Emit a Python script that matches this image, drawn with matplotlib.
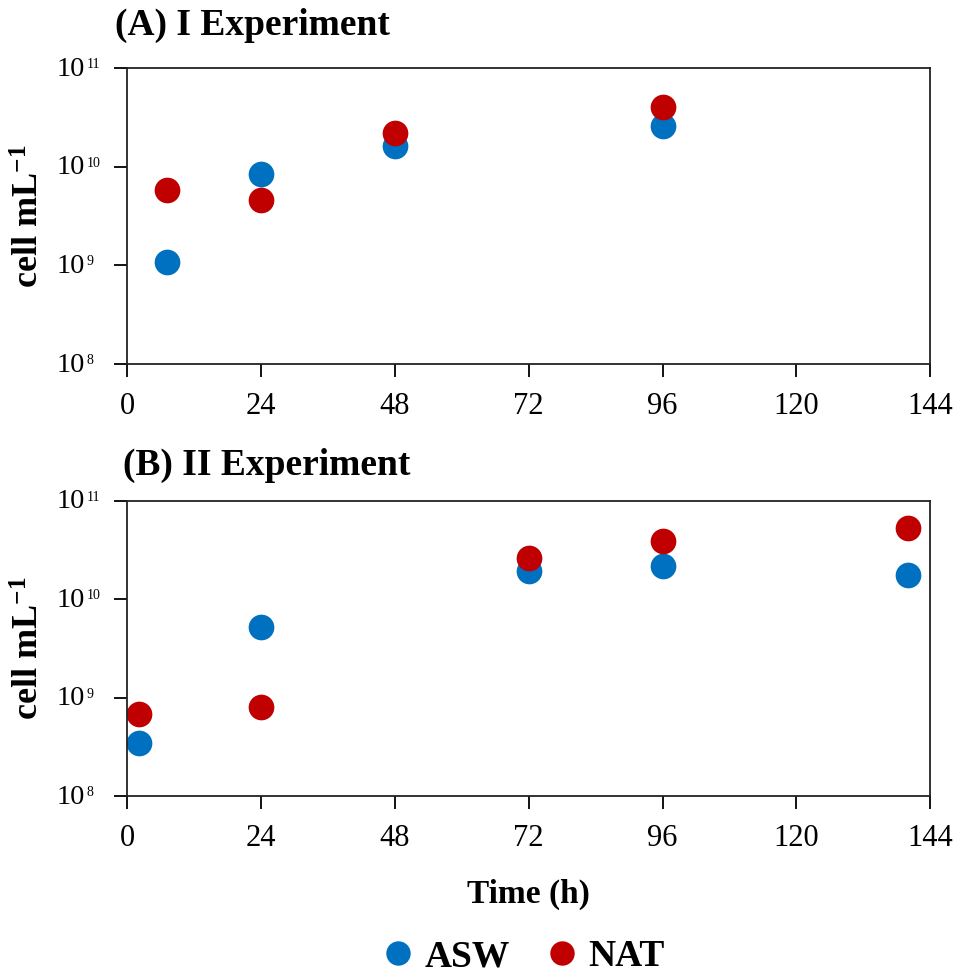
import matplotlib
matplotlib.use("Agg")
import matplotlib.pyplot as plt
import matplotlib.transforms as mtransforms
from matplotlib.ticker import NullLocator, NullFormatter

plt.rcParams['font.family'] = ['Liberation Serif', 'DejaVu Serif']
plt.rcParams['mathtext.fontset'] = 'custom'
plt.rcParams['mathtext.rm'] = 'Liberation Serif'
plt.rcParams['mathtext.bf'] = 'Liberation Serif:bold'
plt.rcParams['mathtext.it'] = 'Liberation Serif:italic'

# Panel A data
time_a = [7, 24, 48, 96]
asw_a = [1.08e9, 8.4e9, 1.63e10, 2.58e10]
nat_a = [5.75e9, 4.62e9, 2.17e10, 3.98e10]

# Panel B data
time_b = [2, 24, 72, 96, 140]
asw_b = [3.43e8, 5.2e9, 1.95e10, 2.16e10, 1.77e10]
nat_b = [6.8e8, 7.96e8, 2.6e10, 3.9e10, 5.27e10]

xticks = [0, 24, 48, 72, 96, 120, 144]
yexponents = [8, 9, 10, 11]
titles = ["(A) I Experiment", "(B) II Experiment"]
series_names = ["ASW", "NAT"]
colors = ["#0070C0", "#C00000"]

W, H = 958, 974
fig = plt.figure(figsize=(W / 100, H / 100), dpi=100)

def axpos(l, t, r, b):
    return [l / W, 1 - b / H, (r - l) / W, (b - t) / H]

ax1 = fig.add_axes(axpos(127.5, 68, 930, 364))
ax2 = fig.add_axes(axpos(127.5, 500.7, 930, 796))

panels = [(ax1, time_a, asw_a, nat_a), (ax2, time_b, asw_b, nat_b)]
handles = []
for ax, t, a, n in panels:
    h1, = ax.plot(t, a, 'o', color=colors[0], markersize=18.5, markeredgewidth=0,
                  linestyle='none', label=series_names[0])
    h2, = ax.plot(t, n, 'o', color=colors[1], markersize=18.5, markeredgewidth=0,
                  linestyle='none', label=series_names[1])
    handles = [h1, h2]
    ax.set_yscale('log')
    ax.set_ylim(1e8, 1e11)
    ax.set_xlim(0, 144)
    ax.set_xticks(xticks)
    ax.set_yticks([10.0 ** e for e in yexponents])
    ax.yaxis.set_minor_locator(NullLocator())
    ax.yaxis.set_major_formatter(NullFormatter())
    ax.tick_params(axis='both', direction='out', length=9.5, width=1.3,
                   labelsize=22, colors='black')
    ax.tick_params(axis='x', pad=10.5)
    for sp in ax.spines.values():
        sp.set_linewidth(1.3)
        sp.set_color('#222222')
    # y tick labels: "10" with small superscript, left-aligned (Excel style)
    blend = mtransforms.blended_transform_factory(ax.transAxes, ax.transData)
    xl = (57 - 127.5) / 802.5
    for e in yexponents:
        ax.annotate('10', xy=(xl, 10.0 ** e), xycoords=blend,
                    xytext=(0, -1), textcoords='offset pixels',
                    ha='left', va='center', fontsize=20.5, annotation_clip=False)
        ax.annotate(str(e), xy=(xl, 10.0 ** e), xycoords=blend,
                    xytext=(30, 10), textcoords='offset pixels',
                    ha='left', va='top', fontsize=10, annotation_clip=False)
    ax.set_ylabel(r'cell mL$^{\mathbf{-1}}$', fontsize=26, fontweight='bold')
    ax.yaxis.set_label_coords(-0.10, 0.5)

fig.text(115 / W, 1 - 35 / H, titles[0], fontsize=27, fontweight='bold',
         ha='left', va='baseline')
fig.text(123 / W, 1 - 475 / H, titles[1], fontsize=27, fontweight='bold',
         ha='left', va='baseline')

ax2.set_xlabel('Time (h)', fontsize=24, fontweight='bold', labelpad=18.5)

fig.legend(handles=handles, labels=series_names, loc='center',
           bbox_to_anchor=(522 / W, 1 - 957 / H), ncol=2, frameon=False,
           prop={'size': 27, 'weight': 'bold'}, handletextpad=0.2,
           columnspacing=0.9, handlelength=1.0, markerscale=0.95)

fig.savefig('out.png', dpi=100)
